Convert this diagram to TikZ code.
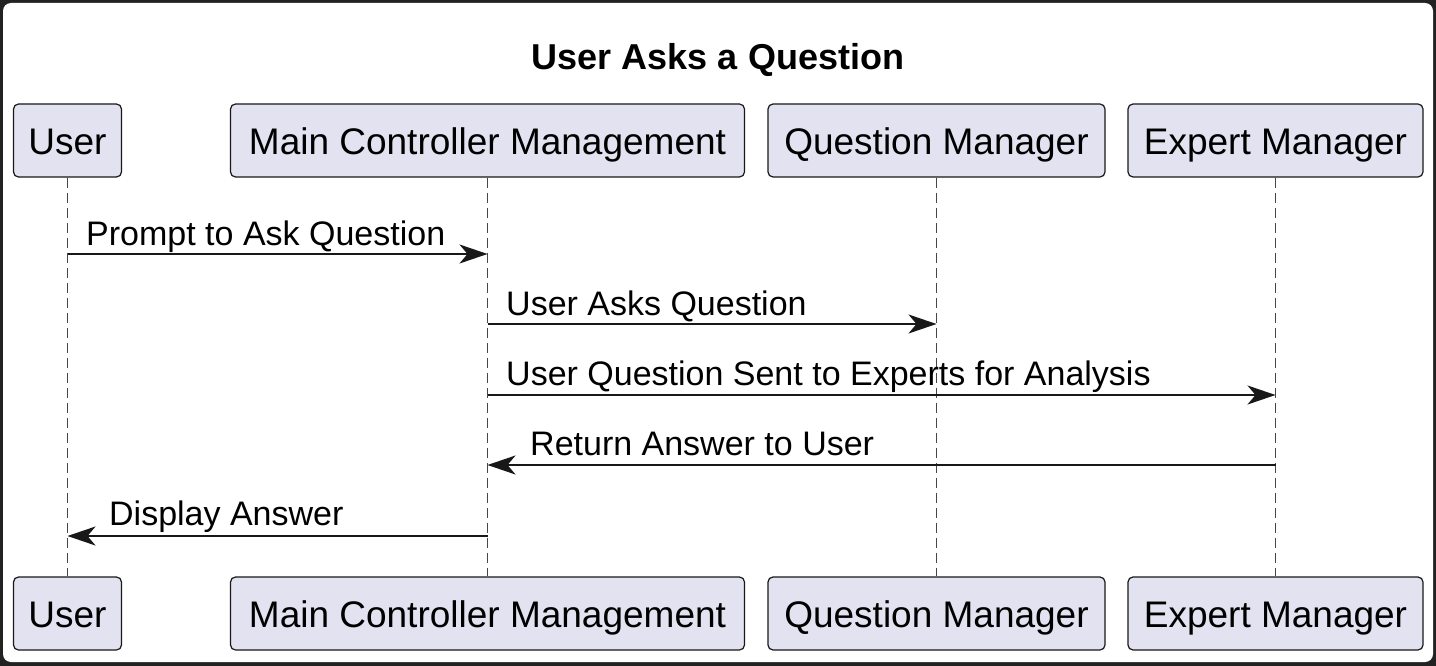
\documentclass[tikz,border=0pt]{standalone}
\usepackage{fontspec}
\setmainfont{Liberation Sans}
\usetikzlibrary{arrows.meta}
\definecolor{boxfill}{HTML}{E2E2F0}
\definecolor{ink}{HTML}{181818}
\definecolor{framec}{HTML}{222222}
\begin{document}
\begin{tikzpicture}[x=1pt,y=-1pt,
 part/.style={draw=ink,fill=boxfill,line width=1.2pt,rounded corners=5pt,minimum height=73pt,inner sep=0pt,text height=28pt,text depth=0pt,font=\fontsize{37}{40}\selectfont},
 life/.style={draw=ink!80,line width=1pt,dash pattern=on 10pt off 5pt},
 msg/.style={draw=ink,line width=2pt,-{Stealth[length=28pt,width=19pt,inset=8pt]}},
 lbl/.style={anchor=base west,inner sep=0pt,font=\fontsize{34}{36}\selectfont}]
\useasboundingbox (0,0) rectangle (1436,666);
\fill[framec] (0,0) rectangle (1436,666);
\fill[white,rounded corners=8pt] (3,3) rectangle (1433,662);
\node[anchor=base,inner sep=0pt,font=\bfseries\fontsize{36}{40}\selectfont] (title) at (718,70) {User Asks a Question};
% participants
\node[part,minimum width=108pt] (u1) at (67.5,140.5) {User};
\node[part,minimum width=514pt] (m1) at (487.5,140.5) {Main Controller Management};
\node[part,minimum width=337pt] (q1) at (936.5,140.5) {Question Manager};
\node[part,minimum width=295pt] (e1) at (1275.5,140.5) {Expert Manager};
\node[part,minimum width=108pt] (u2) at (67.5,613.5) {User};
\node[part,minimum width=514pt] (m2) at (487.5,613.5) {Main Controller Management};
\node[part,minimum width=337pt] (q2) at (936.5,613.5) {Question Manager};
\node[part,minimum width=295pt] (e2) at (1275.5,613.5) {Expert Manager};
% lifelines
\draw[life] (u1.south) -- (u2.north);
\draw[life] (m1.south) -- (m2.north);
\draw[life] (q1.south) -- (q2.north);
\draw[life] (e1.south) -- (e2.north);
% message rows
\coordinate (r1) at (0,254);
\coordinate (r2) at (0,324);
\coordinate (r3) at (0,395);
\coordinate (r4) at (0,465);
\coordinate (r5) at (0,536);
\draw[msg] (u1 |- r1) -- (m1 |- r1);
\node[lbl] (l1) at (86,245) {Prompt to Ask Question};
\draw[msg] (m1 |- r2) -- (q1 |- r2);
\node[lbl] (l2) at (506,315) {User Asks Question};
\draw[msg] (m1 |- r3) -- (e1 |- r3);
\node[lbl] (l3) at (506,385) {User Question Sent to Experts for Analysis};
\draw[msg] (e1 |- r4) -- (m1 |- r4);
\node[lbl] (l4) at (530,455) {Return Answer to User};
\draw[msg] (m1 |- r5) -- (u1 |- r5);
\node[lbl] (l5) at (109,525) {Display Answer};
\end{tikzpicture}
\end{document}
